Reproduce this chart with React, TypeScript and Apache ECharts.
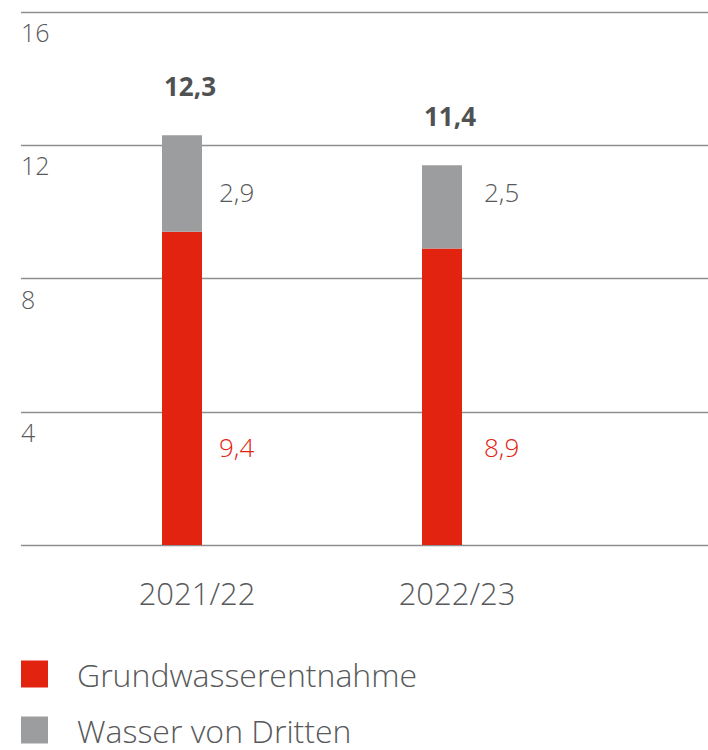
import React, { useEffect, useRef } from "react";
import * as echarts from "echarts";

const categories = ["2021/22", "2022/23"];
const groundwater = [9.4, 8.9];
const thirdParty = [2.9, 2.5];
const totals = [12.3, 11.4];
const yTicks = [0, 4, 8, 12, 16];
const seriesNames = ["Grundwasserentnahme", "Wasser von Dritten"];

const RED = "#e2230f";
const GRAY = "#9c9d9e";
const TEXT = "#58595b";
const FONT = "'Open Sans', Lato, sans-serif";

const fmt = (v: number) => v.toFixed(1).replace(".", ",");

export default function App() {
  const ref = useRef<HTMLDivElement>(null);
  useEffect(() => {
    if (!ref.current) return;
    const chart = echarts.init(ref.current, undefined, { renderer: "svg" });
    const gridTop = 12;
    const gridH = 533;
    const barLeft = 52;
    const barW = 520;
    const catW = barW / categories.length;
    const graphics: any[] = [];
    categories.forEach((_, i) => {
      const cx = barLeft + catW * (i + 0.5);
      graphics.push({
        type: "text",
        left: cx + 37 + i * 5,
        top: 193 - 14,
        style: { text: fmt(thirdParty[i]), fill: TEXT, font: `300 26px ${FONT}` },
      });
      graphics.push({
        type: "text",
        left: cx + 37 + i * 5,
        top: 448 - 14,
        style: { text: fmt(groundwater[i]), fill: RED, font: `300 26px ${FONT}` },
      });
    });
    chart.setOption({
      animation: false,
      textStyle: { fontFamily: FONT },
      grid: [
        { left: 21, right: 0, top: gridTop, height: gridH },
        { left: barLeft, width: barW, top: gridTop, height: gridH },
      ],
      xAxis: [
        { type: "value", gridIndex: 0, show: false, min: 0, max: 1 },
        {
          type: "category",
          gridIndex: 1,
          data: categories,
          axisLine: { show: false },
          axisTick: { show: false },
          axisLabel: {
            color: TEXT,
            fontSize: 31,
            fontWeight: 300,
            lineHeight: 31,
            margin: 32,
            padding: [0, 0, 0, 30],
          },
        },
      ],
      yAxis: [
        {
          type: "value",
          gridIndex: 0,
          min: yTicks[0],
          max: yTicks[yTicks.length - 1],
          interval: 4,
          axisLine: { show: false },
          axisTick: { show: false },
          splitLine: { lineStyle: { color: "#8f8f8f", width: 1.3 } },
          axisLabel: {
            inside: true,
            margin: 0,
            color: TEXT,
            fontSize: 25,
            fontWeight: 300,
            lineHeight: 26,
            verticalAlign: "top",
            padding: [7, 0, 0, 0],
            formatter: (v: number) => (v === 0 ? "" : String(v)),
          },
        },
        {
          type: "value",
          gridIndex: 1,
          min: 0,
          max: 16,
          interval: 4,
          show: false,
        },
      ],
      legend: {
        orient: "vertical",
        left: 21,
        top: 658,
        height: 140,
        padding: 0,
        itemWidth: 27,
        itemHeight: 27,
        itemGap: 24,
        icon: "rect",
        textStyle: {
          color: TEXT,
          fontSize: 32,
          fontWeight: 300,
          lineHeight: 27,
          padding: [0, 0, 0, 24],
        },
        data: seriesNames,
      },
      series: [
        {
          name: seriesNames[0],
          type: "bar",
          stack: "total",
          xAxisIndex: 1,
          yAxisIndex: 1,
          barWidth: 40,
          itemStyle: { color: RED },
          data: groundwater,
        },
        {
          name: seriesNames[1],
          type: "bar",
          stack: "total",
          xAxisIndex: 1,
          yAxisIndex: 1,
          barWidth: 40,
          itemStyle: { color: GRAY },
          data: thirdParty,
          label: {
            show: true,
            position: "top",
            distance: 36,
            offset: [8, 0],
            color: "#505153",
            fontSize: 26,
            fontWeight: "bold",
            lineHeight: 27,
            formatter: (p: any) => fmt(totals[p.dataIndex]),
          },
        },
      ],
      graphic: graphics,
    });
    return () => chart.dispose();
  }, []);
  return (
    <div
      ref={ref}
      style={{ position: "fixed", left: 0, top: 0, width: 708, height: 750, background: "#fff" }}
    />
  );
}
